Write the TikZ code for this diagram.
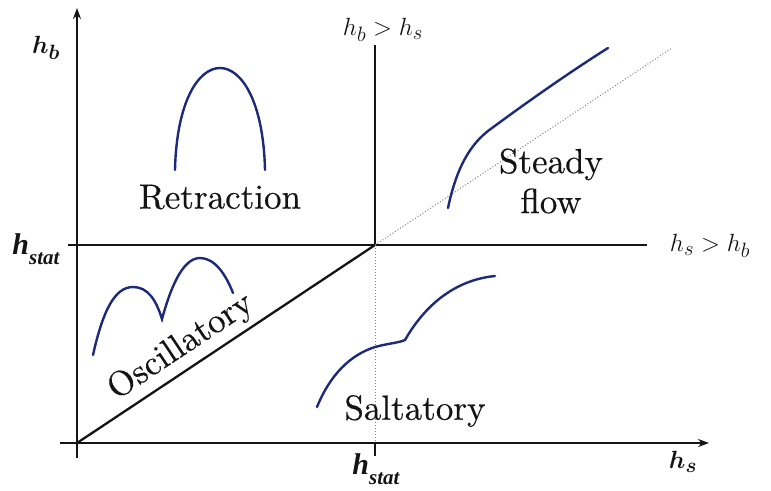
\documentclass[tikz,border=0pt]{standalone}
\usepackage{fontspec}
\usepackage{amsmath,bm}
\newfontfamily\tnr{Liberation Serif}
\newfontfamily\regfont{lmroman10-regular}[Extension=.otf,FakeBold=0.4]
\usetikzlibrary{arrows.meta}
\definecolor{curveblue}{RGB}{28,42,120}
\definecolor{txt}{RGB}{20,20,20}
\tikzset{
  axis/.style={line width=2.6pt, draw=txt},
  regline/.style={line width=2.3pt, draw=txt},
  dotline/.style={line width=1pt, draw=gray, dotted},
  flow/.style={line width=2.4pt, draw=curveblue, line cap=round},
  region/.style={font=\fontsize{35}{40}\selectfont\regfont, text=txt, inner sep=0pt},
  mlabel/.style={font=\fontsize{30}{34}\selectfont, text=txt, inner sep=0pt},
  stlabel/.style={font=\fontsize{30}{34}\selectfont\tnr\bfseries\itshape, text=txt, inner sep=0pt}
}
\newcommand{\hstatlbl}{h\raisebox{-0.35em}{\fontsize{21}{24}\selectfont stat}}
\begin{document}
\begin{tikzpicture}[x=1pt,y=-1pt]
\useasboundingbox (0,0) rectangle (771,490);
% key points
\coordinate (O) at (77,443);
\coordinate (ytop) at (77,8);
\coordinate (ybot) at (77,458);
\coordinate (xleft) at (60,443);
\coordinate (xright) at (709,443);
\coordinate (hl) at (68,245);
\coordinate (hr) at (647,245);
\coordinate (C) at (375,245);
\coordinate (vtop) at (375,45);
\coordinate (tick) at (375,456);
\coordinate (dtop) at (672,48);
\coordinate (vdot) at (375,443);
% axes
\draw[axis, -{Stealth[length=11pt,width=8pt]}] (ybot) -- (ytop);
\draw[axis, -{Stealth[length=11pt,width=8pt]}] (xleft) -- (xright);
% region boundaries
\draw[regline] (hl) -- (hr);
\draw[regline] (C) -- (vtop);
\draw[regline] (O) -- (C);
\draw[dotline] (C) -- (dtop);
\draw[dotline] (C) -- (vdot);
\draw[regline] (vdot) -- (tick);
% flow curves
\draw[flow] (175,170) .. controls (178,34) and (262,34) .. (265,170);
\draw[flow] (93,355) .. controls (103,310) and (115,287) .. (133,287)
  .. controls (148,287) and (156,300) .. (162,319)
  .. controls (170,290) and (182,258) .. (200,258)
  .. controls (215,258) and (226,275) .. (233,293);
\draw[flow] (448,208) .. controls (458,160) and (475,140) .. (492,128)
  .. controls (530,100) and (570,72) .. (608,48);
\draw[flow] (317,407) .. controls (330,375) and (350,355) .. (375,347)
  .. controls (390,343) and (398,343) .. (405,340)
  .. controls (425,305) and (455,280) .. (495,276);
% region labels
\node[region] (retr) at (220,197) {Retraction};
\node[region, align=center] (steady) at (551,181) {Steady\\flow};
\node[region, rotate=33.6] (osc) at (181,347) {Oscillatory};
\node[region] (salt) at (415,411) {Saltatory};
% axis labels
\node[mlabel] (hb) at (46,48) {$\boldsymbol{h_b}$};
\node[mlabel] (hs) at (683,462) {$\boldsymbol{h_s}$};
\node[mlabel] (hbgt) at (383,30) {$h_b > h_s$};
\node[mlabel] (hsgt) at (710,246) {$h_s > h_b$};
\node[stlabel] (hstatl) at (36,249) {\hstatlbl};
\node[stlabel] (hstatb) at (376,469) {\hstatlbl};
\end{tikzpicture}
\end{document}
